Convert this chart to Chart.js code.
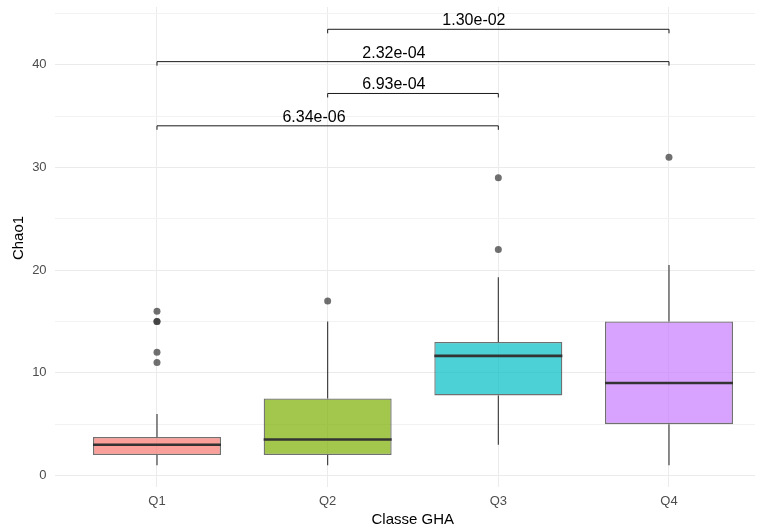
<!DOCTYPE html>
<html>
<head>
<meta charset="utf-8">
<script src="https://cdn.jsdelivr.net/npm/chart.js@4.4.1/dist/chart.umd.min.js"></script>
<style>
  html, body { margin: 0; padding: 0; background: #ffffff; overflow: hidden; }
  #wrap { width: 759px; height: 531px; position: relative; }
</style>
</head>
<body>
<div id="wrap"><canvas id="c" width="759" height="531"></canvas></div>
<script>
// ---- data ----
const categories = ["Q1", "Q2", "Q3", "Q4"];
const whiskerLow = [1, 1, 3, 1];
const boxLow = [2, 2, 7.8, 5];
const medians = [3, 3.5, 11.65, 9];
const boxHigh = [3.75, 7.5, 13, 15];
const whiskerHigh = [6, 15, 19.3, 20.5];
const outlierCategory = [1, 1, 1, 1, 1, 2, 3, 3, 4];
const outlierValue = [16, 15, 15, 12, 11, 17, 29, 22, 31];
const yTicks = [0, 5, 10, 15, 20, 25, 30, 35, 40, 45];
const fillColors = ["rgba(248,118,109,0.7)", "rgba(124,174,0,0.7)", "rgba(0,191,196,0.7)", "rgba(199,124,255,0.7)"];
// significance brackets
const bracketFrom = [2, 1, 2, 1];
const bracketTo = [4, 4, 3, 3];
const bracketY = [43.45, 40.3, 37.2, 34.05];
const bracketLabel = ["1.30e-02", "2.32e-04", "6.93e-04", "6.34e-06"];
const bracketLabelX = [2.857, 2.388, 2.388, 1.92];

const boxData = categories.map((c, i) => ({ x: i + 1, y: [boxLow[i], boxHigh[i]] }));
const outlierData = outlierValue.map((v, i) => ({ x: outlierCategory[i], y: v }));

const boxPlugin = {
  id: 'boxParts',
  afterDatasetsDraw(chart) {
    const ctx = chart.ctx;
    const xs = chart.scales.x, ys = chart.scales.y;
    const meta = chart.getDatasetMeta(0);
    ctx.save();
    categories.forEach((c, i) => {
      const bar = meta.data[i];
      const half = bar.width / 2;
      const cx = xs.getPixelForValue(i + 1);
      // whiskers
      ctx.strokeStyle = '#333333';
      ctx.lineWidth = 1.1;
      ctx.beginPath();
      ctx.moveTo(cx, ys.getPixelForValue(whiskerLow[i]));
      ctx.lineTo(cx, ys.getPixelForValue(boxLow[i]));
      ctx.moveTo(cx, ys.getPixelForValue(boxHigh[i]));
      ctx.lineTo(cx, ys.getPixelForValue(whiskerHigh[i]));
      ctx.stroke();
      // median
      ctx.strokeStyle = '#333333';
      ctx.lineWidth = 2.6;
      ctx.beginPath();
      const my = ys.getPixelForValue(medians[i]);
      ctx.moveTo(cx - half, my);
      ctx.lineTo(cx + half, my);
      ctx.stroke();
    });
    ctx.restore();
  },
  afterDraw(chart) {
    const ctx = chart.ctx;
    const xs = chart.scales.x, ys = chart.scales.y;
    ctx.save();
    // brackets
    ctx.strokeStyle = '#1a1a1a';
    ctx.lineWidth = 1;
    ctx.fillStyle = '#000000';
    ctx.font = '16px "Liberation Sans", Arial, sans-serif';
    ctx.textAlign = 'center';
    ctx.textBaseline = 'alphabetic';
    bracketY.forEach((yv, i) => {
      const x1 = xs.getPixelForValue(bracketFrom[i]);
      const x2 = xs.getPixelForValue(bracketTo[i]);
      const y = ys.getPixelForValue(yv);
      ctx.beginPath();
      ctx.moveTo(x1, y + 4);
      ctx.lineTo(x1, y);
      ctx.lineTo(x2, y);
      ctx.lineTo(x2, y + 4);
      ctx.stroke();
      ctx.fillText(bracketLabel[i], xs.getPixelForValue(bracketLabelX[i]), y - 4);
    });
    // axis titles
    ctx.font = '15px "Liberation Sans", Arial, sans-serif';
    ctx.textBaseline = 'middle';
    ctx.fillText('Classe GHA', 412.8, 520);
    ctx.translate(19, 238);
    ctx.rotate(-Math.PI / 2);
    ctx.fillText('Chao1', 0, 0);
    ctx.restore();
  }
};

new Chart(document.getElementById('c'), {
  data: {
    datasets: [
      {
        type: 'bar',
        data: boxData,
        backgroundColor: fillColors,
        borderColor: 'rgba(51,51,51,0.7)',
        borderWidth: 1.3,
        borderSkipped: false,
        barPercentage: 0.75,
        categoryPercentage: 1,
        grouped: false,
        order: 2
      },
      {
        type: 'scatter',
        data: outlierData,
        pointRadius: 3.5,
        pointBackgroundColor: 'rgba(51,51,51,0.7)',
        pointBorderWidth: 0,
        order: 1
      }
    ]
  },
  options: {
    responsive: false,
    animation: false,
    layout: { padding: { top: 7, left: 0, right: 0, bottom: 0 } },
    plugins: { legend: { display: false }, tooltip: { enabled: false } },
    scales: {
      x: {
        type: 'linear',
        offset: false,
        min: 0.4,
        max: 4.504,
        afterBuildTicks: (s) => { s.ticks = categories.map((c, i) => ({ value: i + 1 })); },
        afterFit: (s) => { s.height = 44; s.paddingLeft = 0; s.paddingRight = 0; },
        ticks: {
          callback: (v) => categories[v - 1],
          color: '#4d4d4d',
          font: { family: '"Liberation Sans", Arial, sans-serif', size: 13 },
          padding: 7,
          autoSkip: false,
          maxRotation: 0
        },
        grid: { color: '#ebebeb', lineWidth: 1, drawTicks: false, offset: false },
        border: { display: false }
      },
      y: {
        type: 'linear',
        min: -1.12,
        max: 45.62,
        afterBuildTicks: (s) => { s.ticks = yTicks.map(v => ({ value: v })); },
        afterFit: (s) => { s.width = 54.6; s.paddingTop = 0; s.paddingBottom = 0; },
        ticks: {
          callback: (v) => (v % 10 === 0 ? String(v) : ''),
          color: '#4d4d4d',
          font: { family: '"Liberation Sans", Arial, sans-serif', size: 13 },
          padding: 8
        },
        grid: { color: (ctx) => (ctx.tick && ctx.tick.value % 10 === 0 ? '#ebebeb' : '#f2f2f2'), lineWidth: 1, drawTicks: false },
        border: { display: false }
      }
    }
  },
  plugins: [boxPlugin]
});
</script>
</body>
</html>
